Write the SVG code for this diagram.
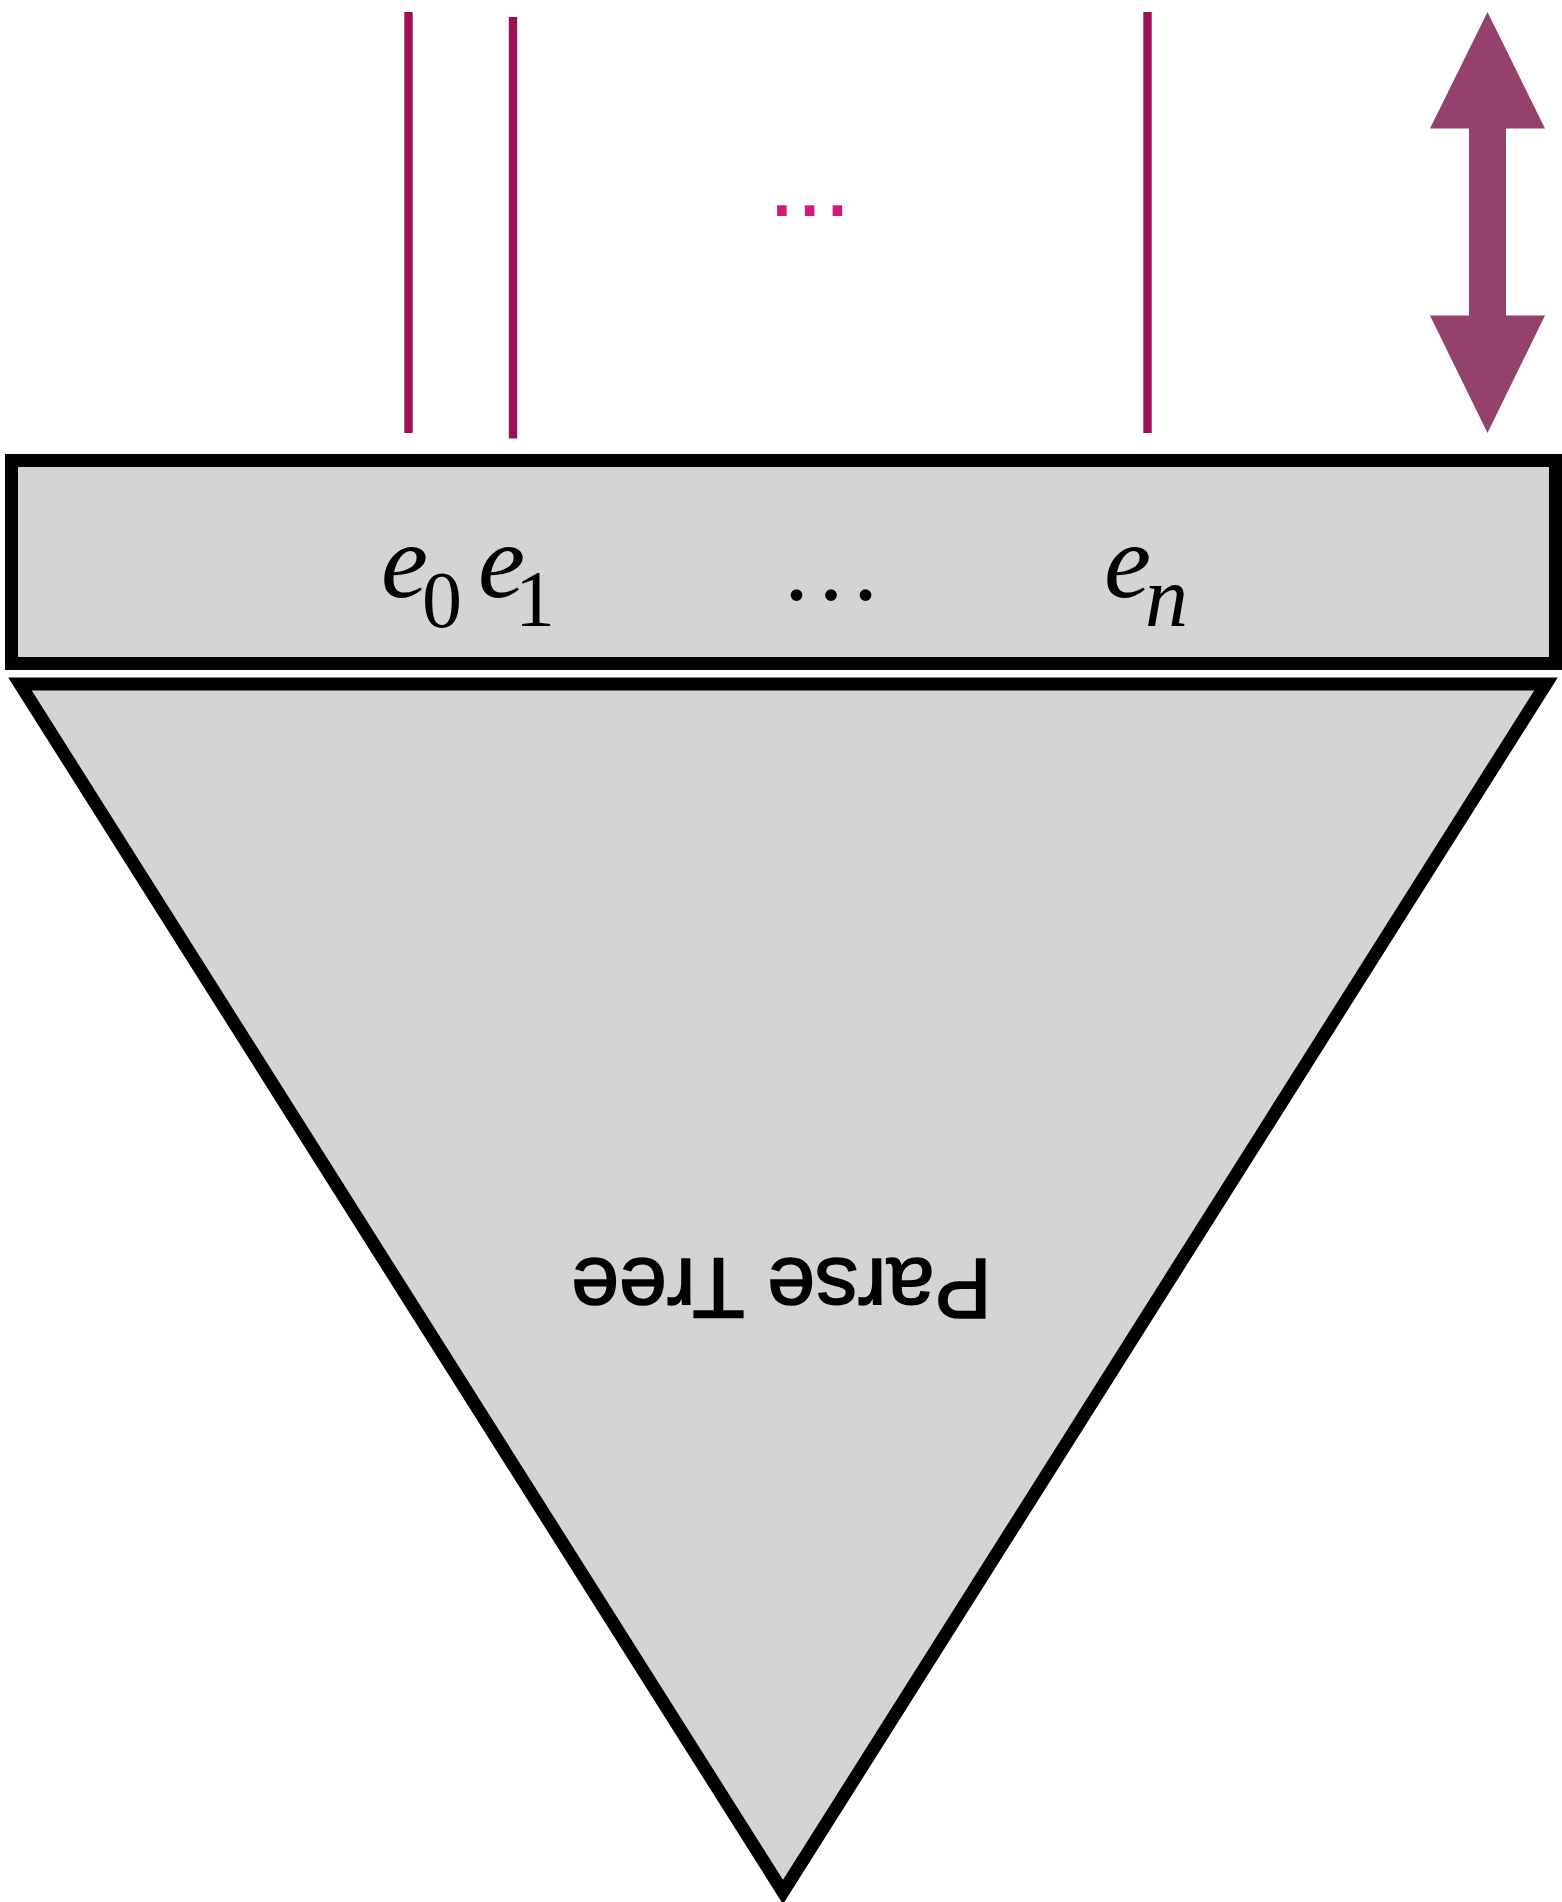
<svg xmlns="http://www.w3.org/2000/svg" width="1562" height="1902" viewBox="0 0 1562 1902">
  <style>
    .box { fill: #d4d4d4; stroke: #000; stroke-width: 13; stroke-linejoin: miter; stroke-miterlimit: 10; }
    .tick { stroke: #9b1154; stroke-width: 8.4; fill: none; }
    .math { font-family: "Liberation Serif", "Times New Roman", serif; fill: #000; }
    .it { font-style: italic; }
    .label { font-family: "Liberation Sans", Arial, sans-serif; fill: #000; stroke: #000; stroke-width: 1.6; }
  </style>
  <rect width="1562" height="1902" fill="#ffffff"/>

  <g id="parse-tree">
    <polygon class="box" points="20,684 1546,684 783,1892"/>
    <text class="label" font-size="86" text-anchor="middle" transform="translate(781.5,1259) rotate(180)">Parse Tree</text>
  </g>

  <g id="token-row">
    <rect class="box" x="11.5" y="460.5" width="1544" height="203"/>
    <text class="math it" x="381" y="597" font-size="106">e</text>
    <text class="math" x="422" y="627" font-size="80">0</text>
    <text class="math it" x="478" y="597" font-size="106">e</text>
    <text class="math" x="515" y="626" font-size="80">1</text>
    <text class="math" font-size="100" x="784 818.5 853" y="599.5">...</text>
    <text class="math it" x="1104" y="597" font-size="106">e</text>
    <text class="math it" x="1145" y="626" font-size="86">n</text>
  </g>

  <g id="connectors">
    <line class="tick" x1="408.5" y1="12" x2="408.5" y2="433"/>
    <line class="tick" x1="513" y1="17" x2="513" y2="438.5"/>
    <line class="tick" x1="1147.5" y1="12" x2="1147.5" y2="433"/>
    <text x="768" y="216" font-family="Liberation Sans, Arial, sans-serif" font-size="100" fill="#d41a78">...</text>
  </g>

  <g id="double-arrow">
    <polygon fill="#94416d" points="1487.5,12 1545,128.5 1506,128.5 1506,315.5 1545,315.5 1487.5,433 1430,315.5 1469,315.5 1469,128.5 1430,128.5"/>
  </g>
</svg>
